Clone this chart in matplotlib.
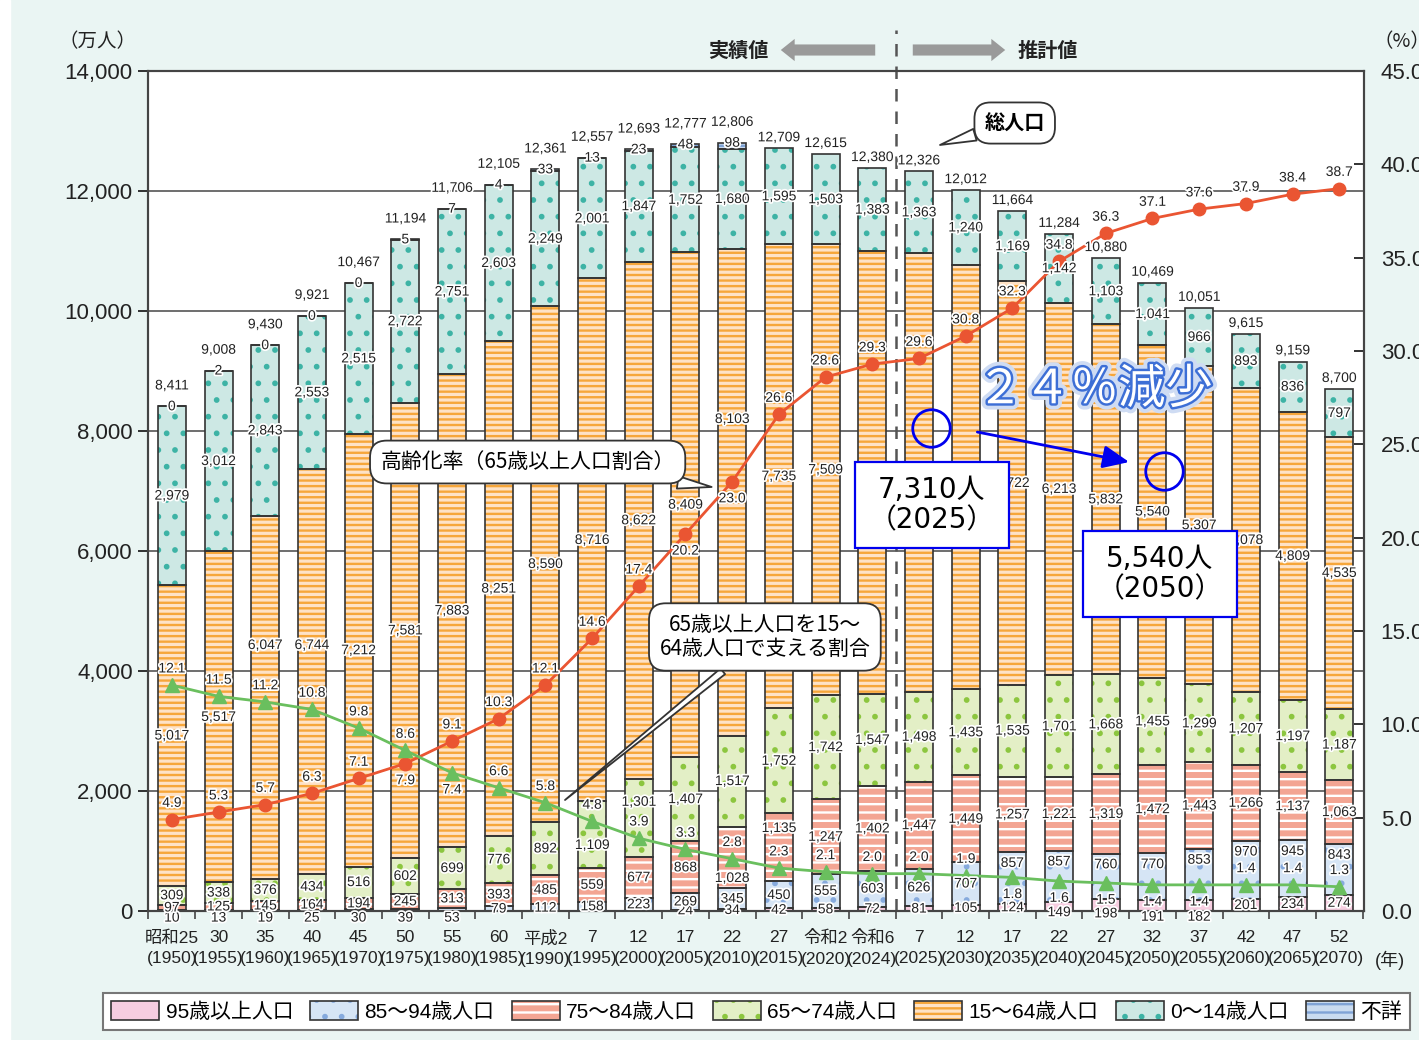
import numpy as np
import matplotlib.pyplot as plt
from matplotlib import font_manager
from matplotlib.patches import Patch, FancyArrowPatch, Rectangle
import matplotlib.patheffects as pe

# --- fuentes ---
installed = {f.name for f in font_manager.fontManager.ttflist}
NUM_FONT = 'Liberation Sans Narrow' if 'Liberation Sans Narrow' in installed else 'Liberation Sans'
JP = 'Noto Sans CJK JP'
plt.rcParams['font.family'] = ['Liberation Sans', JP, 'DejaVu Sans']
plt.rcParams['hatch.linewidth'] = 1.7

# --- datos (万人) ---
era = ['昭和25', '30', '35', '40', '45', '50', '55', '60', '平成2', '7', '12', '17', '22',
       '27', '令和2', '令和6', '7', '12', '17', '22', '27', '32', '37', '42', '47', '52']
years = [1950, 1955, 1960, 1965, 1970, 1975, 1980, 1985, 1990, 1995, 2000, 2005, 2010,
         2015, 2020, 2024, 2025, 2030, 2035, 2040, 2045, 2050, 2055, 2060, 2065, 2070]
total = [8411, 9008, 9430, 9921, 10467, 11194, 11706, 12105, 12361, 12557, 12693, 12777, 12806,
         12709, 12615, 12380, 12326, 12012, 11664, 11284, 10880, 10469, 10051, 9615, 9159, 8700]
age_0_14 = [2979, 3012, 2843, 2553, 2515, 2722, 2751, 2603, 2249, 2001, 1847, 1752, 1680,
            1595, 1503, 1383, 1363, 1240, 1169, 1142, 1103, 1041, 966, 893, 836, 797]
age_15_64 = [5017, 5517, 6047, 6744, 7212, 7581, 7883, 8251, 8590, 8716, 8622, 8409, 8103,
             7735, 7509, 7373, 7310, 7076, 6722, 6213, 5832, 5540, 5307, 5078, 4809, 4535]
age_65_74 = [309, 338, 376, 434, 516, 602, 699, 776, 892, 1109, 1301, 1407, 1517,
             1752, 1742, 1547, 1498, 1435, 1535, 1701, 1668, 1455, 1299, 1207, 1197, 1187]
age_75_84 = [97, 125, 145, 164, 194, 245, 313, 393, 485, 559, 677, 868, 1028,
             1135, 1247, 1402, 1447, 1449, 1257, 1221, 1319, 1472, 1443, 1266, 1137, 1063]
# hasta 2000 incluye a los de 95 años y más
age_85_94 = [10, 13, 19, 25, 30, 39, 53, 79, 112, 158, 223, 269, 345,
             450, 555, 603, 626, 707, 857, 857, 760, 770, 853, 970, 945, 843]
age_95_plus = [None, None, None, None, None, None, None, None, None, None, None, 24, 34,
               42, 58, 72, 81, 105, 124, 149, 198, 191, 182, 201, 234, 274]
unknown = [0, 2, 0, 0, 0, 5, 7, 4, 33, 13, 23, 48, 98,
           None, None, None, None, None, None, None, None, None, None, None, None, None]
aging_rate = [4.9, 5.3, 5.7, 6.3, 7.1, 7.9, 9.1, 10.3, 12.1, 14.6, 17.4, 20.2, 23.0,
              26.6, 28.6, 29.3, 29.6, 30.8, 32.3, 34.8, 36.3, 37.1, 37.6, 37.9, 38.4, 38.7]
support_ratio = [12.1, 11.5, 11.2, 10.8, 9.8, 8.6, 7.4, 6.6, 5.8, 4.8, 3.9, 3.3, 2.8,
                 2.3, 2.1, 2.0, 2.0, 1.9, 1.8, 1.6, 1.5, 1.4, 1.4, 1.4, 1.4, 1.3]

# segmentos de abajo hacia arriba: clave, valores, leyenda, relleno, trama, color de trama
segments = [
    ('95', age_95_plus, '95歳以上人口', '#f6cde0', None, '#f6cde0'),
    ('85', age_85_94, '85～94歳人口', '#d6e5f5', '.', '#86aadd'),
    ('75', age_75_84, '75～84歳人口', '#f3a593', '--', 'white'),
    ('65', age_65_74, '65～74歳人口', '#e3efc6', '.', '#8cc63f'),
    ('15', age_15_64, '15～64歳人口', '#fee2c6', '---', '#f6a63a'),
    ('0', age_0_14, '0～14歳人口', '#cde8e4', '.', '#3db3a5'),
    ('u', unknown, '不詳', '#c9dbf0', '--', '#7fa3d6'),
]
legend_order = ['95', '85', '75', '65', '15', '0', 'u']

# posiciones de etiqueta corregidas a mano (como en el original)
label_fix = {('15', 2): 4433, ('15', 3): 4433, ('15', 12): 8200,
             ('65', 9): 1100, ('65', 10): 1820, ('75', 12): 550, ('75', 13): 1383,
             ('95', 19): -20, ('95', 20): -40, ('95', 21): -95, ('95', 22): -95}
red_below = [5, 11, 12]
green_below = [6, 18, 19, 20, 21, 22]

W, H = 1419, 1040
def fx(px): return px / W
def fy(py): return 1 - py / H

EDGE = '#333333'
halo = [pe.withStroke(linewidth=2.5, foreground='white')]

fig = plt.figure(figsize=(W / 100, H / 100), dpi=100, facecolor='#eaf5f3')
fig.add_artist(Rectangle((0, 0), fx(10), 1, transform=fig.transFigure,
                         color='white', zorder=-10))
ax = fig.add_axes([fx(148), fy(911), fx(1364) - fx(148), fy(71) - fy(911)])
ax.set_facecolor('white')
ax2 = ax.twinx()

n = len(years)
x = np.arange(n)
bottom = np.zeros(n)

def num_text(xv, yv, s, size=10):
    ax2.text(xv, yv, s, transform=ax.transData, ha='center', va='center', fontsize=size,
             family=[NUM_FONT, 'DejaVu Sans'], color='#222', path_effects=halo, zorder=4)

for key, vals, lab, fc, hatch, hc in segments:
    v = np.array([np.nan if a is None else a for a in vals], float)
    ok = ~np.isnan(v)
    h = np.nan_to_num(v)
    ax.bar(x[ok], h[ok], 0.6, bottom=bottom[ok], color=fc, edgecolor=hc, hatch=hatch,
           linewidth=0, zorder=2)
    ax.bar(x[ok], h[ok], 0.6, bottom=bottom[ok], facecolor='none', edgecolor=EDGE,
           linewidth=1.2, zorder=3)
    for i in x[ok]:
        base, val = bottom[i], h[i]
        if key == 'u':
            yl = base + val
        elif (key, i) in label_fix:
            yl = label_fix[(key, i)]
        elif key == '85' and val < 60:
            yl = -110
        elif key == '85' and i >= 18:
            yl = base + val - 180
        else:
            yl = base + val / 2
        num_text(i, yl, f'{int(val):,}')
    bottom += h

# total sobre cada barra
for i in x:
    off = 15 if unknown[i] is not None else 8
    ax2.annotate(f'{total[i]:,}', xy=(i, bottom[i]), xycoords=ax.transData,
                 xytext=(0, off), textcoords='offset points', ha='center', va='center',
                 fontsize=10, family=[NUM_FONT, 'DejaVu Sans'], color='#222',
                 path_effects=halo, zorder=4)

# líneas (eje derecho)
ax2.plot(x, aging_rate, color='#ea5532', lw=2, marker='o', ms=9, zorder=3)
ax2.plot(x, support_ratio, color='#6abf5e', lw=2, marker='^', ms=10, zorder=3)
for i in x:
    dy = -12 if i in red_below else 12
    ax2.annotate(f'{aging_rate[i]:.1f}', xy=(i, aging_rate[i]), xytext=(0, dy),
                 textcoords='offset points', ha='center', va='center', fontsize=10,
                 family=[NUM_FONT, 'DejaVu Sans'], color='#222', path_effects=halo, zorder=4)
    dy = -12 if i in green_below else 12
    ax2.annotate(f'{support_ratio[i]:.1f}', xy=(i, support_ratio[i]), xytext=(0, dy),
                 textcoords='offset points', ha='center', va='center', fontsize=10,
                 family=[NUM_FONT, 'DejaVu Sans'], color='#222', path_effects=halo, zorder=4)

# ejes
ax.set_xlim(-0.51, n - 0.47)
ax.set_ylim(0, 14000)
ax2.set_ylim(0, 45)
ax.set_yticks(np.arange(0, 14001, 2000))
ax.set_yticklabels([f'{t:,}' for t in range(0, 14001, 2000)])
ax2.set_yticks(np.arange(0, 45.1, 5))
ax2.set_yticklabels([f'{t:.1f}' for t in np.arange(0, 45.1, 5)])
ax.set_xticks(x)
ax.set_xticklabels([f'{e}\n({y})' for e, y in zip(era, years)], linespacing=1.45)
ax.set_xticks(np.arange(n + 1) - 0.5, minor=True)
ax.tick_params(axis='x', which='major', length=0, pad=14, labelsize=12.5, colors='#222')
ax.tick_params(axis='x', which='minor', length=6, width=1.2, direction='out', color='#444')
ax.tick_params(axis='y', length=7, width=1.3, direction='out', labelsize=16, pad=4,
               colors='#222')
ax2.tick_params(axis='y', length=7, width=1.3, direction='in', labelsize=16, pad=12,
                colors='#222')
ax.yaxis.grid(True, color='#555', lw=1.2)
ax.set_axisbelow(True)
for a in (ax, ax2):
    for s in a.spines.values():
        s.set_color('#444')
        s.set_linewidth(1.5)

# separación real / estimado
ax.axvline(15.5, ymin=0, ymax=(911 - 30) / 840, color='#555', lw=1.8, ls=(0, (5, 4)),
           clip_on=False, zorder=4)
fig.add_artist(FancyArrowPatch((fx(878), fy(50)), (fx(778), fy(50)), transform=fig.transFigure,
               arrowstyle='simple,head_length=1.0,head_width=1.6,tail_width=0.8',
               mutation_scale=10, color='#9a9a9a', lw=0))
fig.add_artist(FancyArrowPatch((fx(910), fy(50)), (fx(1008), fy(50)), transform=fig.transFigure,
               arrowstyle='simple,head_length=1.0,head_width=1.6,tail_width=0.8',
               mutation_scale=10, color='#9a9a9a', lw=0))
fig.text(fx(738), fy(50), '実績値', ha='center', va='center', fontsize=14.5,
         fontweight='bold', family=JP, color='#222')
fig.text(fx(1048), fy(50), '推計値', ha='center', va='center', fontsize=14.5,
         fontweight='bold', family=JP, color='#222')
fig.text(fx(97), fy(42), '（万人）', ha='center', va='center', fontsize=14, family=JP, color='#222')
fig.text(fx(1402), fy(42), '（%）', ha='center', va='center', fontsize=14, family=JP, color='#222')
fig.text(fx(1390), fy(960), '(年)', ha='center', va='center', fontsize=13, color='#222')

# globos
bubble = dict(boxstyle='round,pad=0.5,rounding_size=0.8', fc='white', ec='#333', lw=1.3)
wedge = dict(arrowstyle='wedge,tail_width=0.6', fc='white', ec='#333', lw=1.3,
             shrinkA=0, shrinkB=0)
ax2.annotate('総人口', xy=(16.45, 12767), xycoords=ax.transData, xytext=(18.05, 13133),
             textcoords=ax.transData, ha='center', va='center', fontsize=14.5,
             fontweight='bold', family=JP, bbox=bubble, arrowprops=wedge, zorder=6)
ax2.annotate('高齢化率（65歳以上人口割合）', xy=(11.56, 7067), xycoords=ax.transData,
             xytext=(7.62, 7483), textcoords=ax.transData, ha='center', va='center',
             fontsize=15, family=JP, bbox=bubble, arrowprops=wedge, zorder=6)
ax2.annotate('65歳以上人口を15～\n64歳人口で支える割合', xy=(8.42, 1850), xycoords=ax.transData,
             xytext=(12.7, 4567), textcoords=ax.transData, ha='center', va='center',
             fontsize=15, family=JP, linespacing=1.15, bbox=bubble,
             arrowprops=dict(arrowstyle='wedge,tail_width=0.35', fc='white', ec='#333',
                             lw=1.3, shrinkA=0, shrinkB=0),
             zorder=6)

# anotaciones azules
blue = '#0000ee'
box_blue = dict(boxstyle='square,pad=0.5', fc='white', ec=blue, lw=1.6)
ax2.text(16.27, 6767, '7,310人\n（2025）', transform=ax.transData, ha='center', va='center',
         fontsize=20, family=['DejaVu Sans', JP], linespacing=1.1, bbox=box_blue, zorder=7)
ax2.text(21.16, 5617, '5,540人\n（2050）', transform=ax.transData, ha='center', va='center',
         fontsize=20, family=['DejaVu Sans', JP], linespacing=1.1, bbox=box_blue, zorder=7)
ax2.text(19.76, 8683, '２４％減少', transform=ax.transData, ha='center', va='center',
         fontsize=34, color='white', family=JP, zorder=7,
         path_effects=[pe.Stroke(linewidth=9, foreground='#cfdcf3'),
                       pe.Stroke(linewidth=3.5, foreground='#3d6fd6'), pe.Normal()])
ax.plot([16.25, 21.25], [8050, 7333], 'o', ms=27, mfc='none', mec=blue, mew=2, zorder=6)
ax2.annotate('', xy=(20.5, 7483), xycoords=ax.transData, xytext=(17.25, 7983),
             textcoords=ax.transData,
             arrowprops=dict(arrowstyle='-|>,head_length=0.8,head_width=0.35', color=blue,
                             lw=2, mutation_scale=20, shrinkA=0, shrinkB=0), zorder=7)

# leyenda
seg_by_key = {s[0]: s for s in segments}
handles, labels = [], []
for k in legend_order:
    _, _, lab, fc, hatch, hc = seg_by_key[k]
    handles.append((Patch(facecolor=fc, edgecolor=hc, hatch=hatch, linewidth=0),
                    Patch(facecolor='none', edgecolor=EDGE, linewidth=1.2)))
    labels.append(lab)
leg = fig.legend(handles, labels, loc='center', ncol=7, mode='expand',
                 bbox_to_anchor=(fx(103), fy(1035), fx(1410) - fx(103), 47 / H),
                 fontsize=15, frameon=True, fancybox=False, framealpha=1, edgecolor='#777',
                 handlelength=2.3, handleheight=1.0, handletextpad=0.3, borderaxespad=0,
                 borderpad=0.4)
leg.get_frame().set_linewidth(1.5)

fig.savefig('out.png', dpi=100, facecolor=fig.get_facecolor())
